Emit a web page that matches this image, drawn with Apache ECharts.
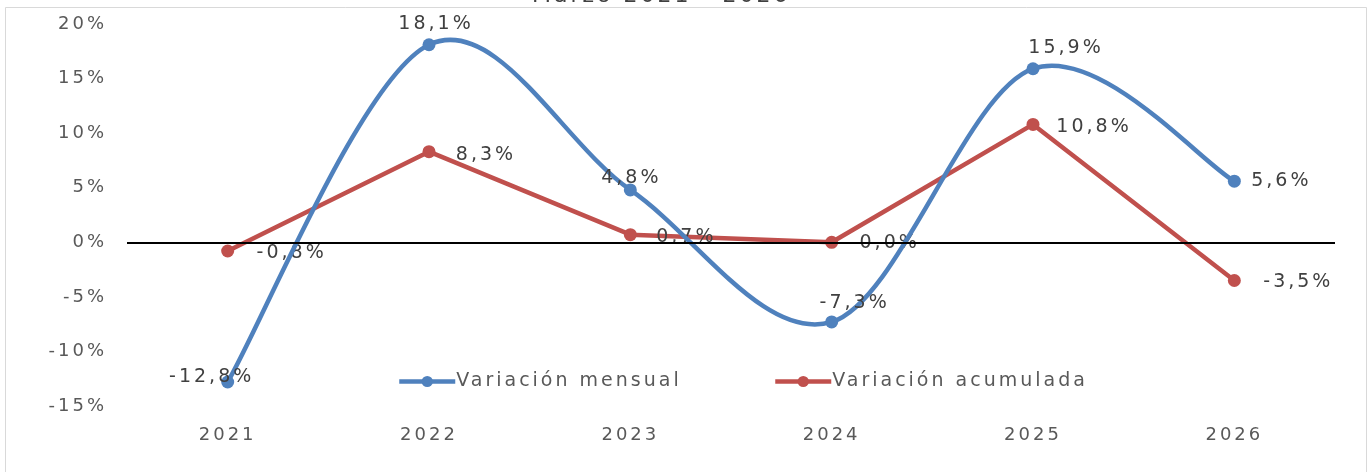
<!DOCTYPE html>
<html>
<head>
<meta charset="utf-8">
<script src="https://cdn.jsdelivr.net/npm/echarts@6/dist/echarts.min.js"></script>
<style>
  html, body { margin: 0; padding: 0; background: #fff; }
  #chart { width: 1372px; height: 472px; }
</style>
</head>
<body>
<div id="chart"></div>
<script>
// datos
const years = ['2021', '2022', '2023', '2024', '2025', '2026'];
const mensual = [-12.8, 18.1, 4.8, -7.3, 15.9, 5.6];
const acumulada = [-0.8, 8.3, 0.7, 0.0, 10.8, -3.5];
const serieNames = ['Variación mensual', 'Variación acumulada'];
const titleText = 'Marzo 2021 - 2026';

// desplazamiento de etiquetas (centro de la etiqueta respecto al punto)
const offMensual = [[-16, -5], [7, -21], [1, -12], [23, -19], [33, -21], [47, 0]];
const offAcum = [[64, 2], [57, 3], [56, 2], [58, 1], [61, 3], [64, 2]];

const FONT = '"DejaVu Sans", sans-serif';
const BLUE = '#4f81bd';
const RED = '#c0504d';
const pct = v => v.toFixed(1).replace('.', ',') + '%';

function withLabels(values, offs) {
  return values.map((v, i) => ({
    value: v,
    label: { position: 'inside', offset: offs[i] }
  }));
}

// curva suavizada estilo Excel (bezier tipo Catmull-Rom entre puntos)
function smoothSegment(params, api) {
  const i = params.dataIndex;
  const n = mensual.length;
  if (i >= n - 1) return null;
  const p = k => {
    const j = Math.min(Math.max(k, 0), n - 1);
    return api.coord([j, mensual[j]]);
  };
  const p0 = p(i - 1), p1 = p(i), p2 = p(i + 1), p3 = p(i + 2);
  return {
    type: 'bezierCurve',
    shape: {
      x1: p1[0], y1: p1[1],
      cpx1: p1[0] + (p2[0] - p0[0]) / 6, cpy1: p1[1] + (p2[1] - p0[1]) / 6,
      cpx2: p2[0] - (p3[0] - p1[0]) / 6, cpy2: p2[1] - (p3[1] - p1[1]) / 6,
      x2: p2[0], y2: p2[1]
    },
    style: { stroke: BLUE, lineWidth: 4.5, fill: null, lineCap: 'round' }
  };
}

const chart = echarts.init(document.getElementById('chart'), null, { renderer: 'canvas' });

const legendBase = {
  itemWidth: 56, itemHeight: 14,
  textStyle: { fontFamily: FONT, fontSize: 19, color: '#595959', padding: [0, 0, 0, -4] }
};

const option = {
  animation: false,
  backgroundColor: '#fff',
  title: {
    text: titleText,
    left: 527,
    top: -20,
    textStyle: { fontFamily: FONT, fontSize: 22, fontWeight: 'normal', color: '#404040' }
  },
  graphic: [{
    type: 'rect',
    shape: { x: 5.5, y: 7.5, width: 1361, height: 480 },
    style: { fill: null, stroke: '#d9d9d9', lineWidth: 1 },
    silent: true,
    z: -10
  }],
  legend: [
    Object.assign({
      data: [{ name: serieNames[0], lineStyle: { color: BLUE, width: 4.5, opacity: 1 } }],
      left: 392, top: 367
    }, legendBase),
    Object.assign({
      data: [{ name: serieNames[1], lineStyle: { color: RED, width: 4.5, opacity: 1 } }],
      left: 768, top: 367
    }, legendBase)
  ],
  grid: { left: 127, right: 37, top: 24, bottom: 66 },
  xAxis: {
    type: 'category',
    data: years,
    boundaryGap: true,
    axisLine: { show: false },
    axisTick: { show: false },
    axisLabel: { fontFamily: FONT, fontSize: 18, color: '#595959', margin: 20 }
  },
  yAxis: {
    type: 'value',
    min: -15, max: 20, interval: 5,
    splitLine: { show: false },
    axisLine: { show: false },
    axisTick: { show: false },
    axisLabel: { fontFamily: FONT, fontSize: 18, color: '#595959', margin: 20, formatter: '{value}%' }
  },
  series: [
    {
      name: serieNames[1],
      type: 'line',
      data: withLabels(acumulada, offAcum),
      symbol: 'circle', symbolSize: 13,
      itemStyle: { color: RED },
      lineStyle: { color: RED, width: 4.5 },
      label: {
        show: true, fontFamily: FONT, fontSize: 19, color: '#404040',
        formatter: p => pct(p.value)
      },
      markLine: {
        silent: true,
        symbol: 'none',
        label: { show: false },
        lineStyle: { color: '#000', width: 2, type: 'solid' },
        data: [{ yAxis: 0 }]
      },
      z: 2
    },
    {
      type: 'custom',
      renderItem: smoothSegment,
      data: mensual.map((v, i) => [i, v]),
      silent: true,
      z: 3
    },
    {
      name: serieNames[0],
      type: 'line',
      data: withLabels(mensual, offMensual),
      symbol: 'circle', symbolSize: 13,
      itemStyle: { color: BLUE },
      lineStyle: { color: BLUE, width: 4.5, opacity: 0 },
      label: {
        show: true, fontFamily: FONT, fontSize: 19, color: '#404040',
        formatter: p => pct(p.value)
      },
      z: 4
    }
  ]
};

chart.setOption(option);

// letras más anchas, como la fuente del original
const cv = document.querySelector('#chart canvas');
if (cv) {
  const ctx = cv.getContext('2d');
  if ('letterSpacing' in ctx) {
    ctx.letterSpacing = '3px';
    chart.setOption(option, true);
  }
}
</script>
</body>
</html>
